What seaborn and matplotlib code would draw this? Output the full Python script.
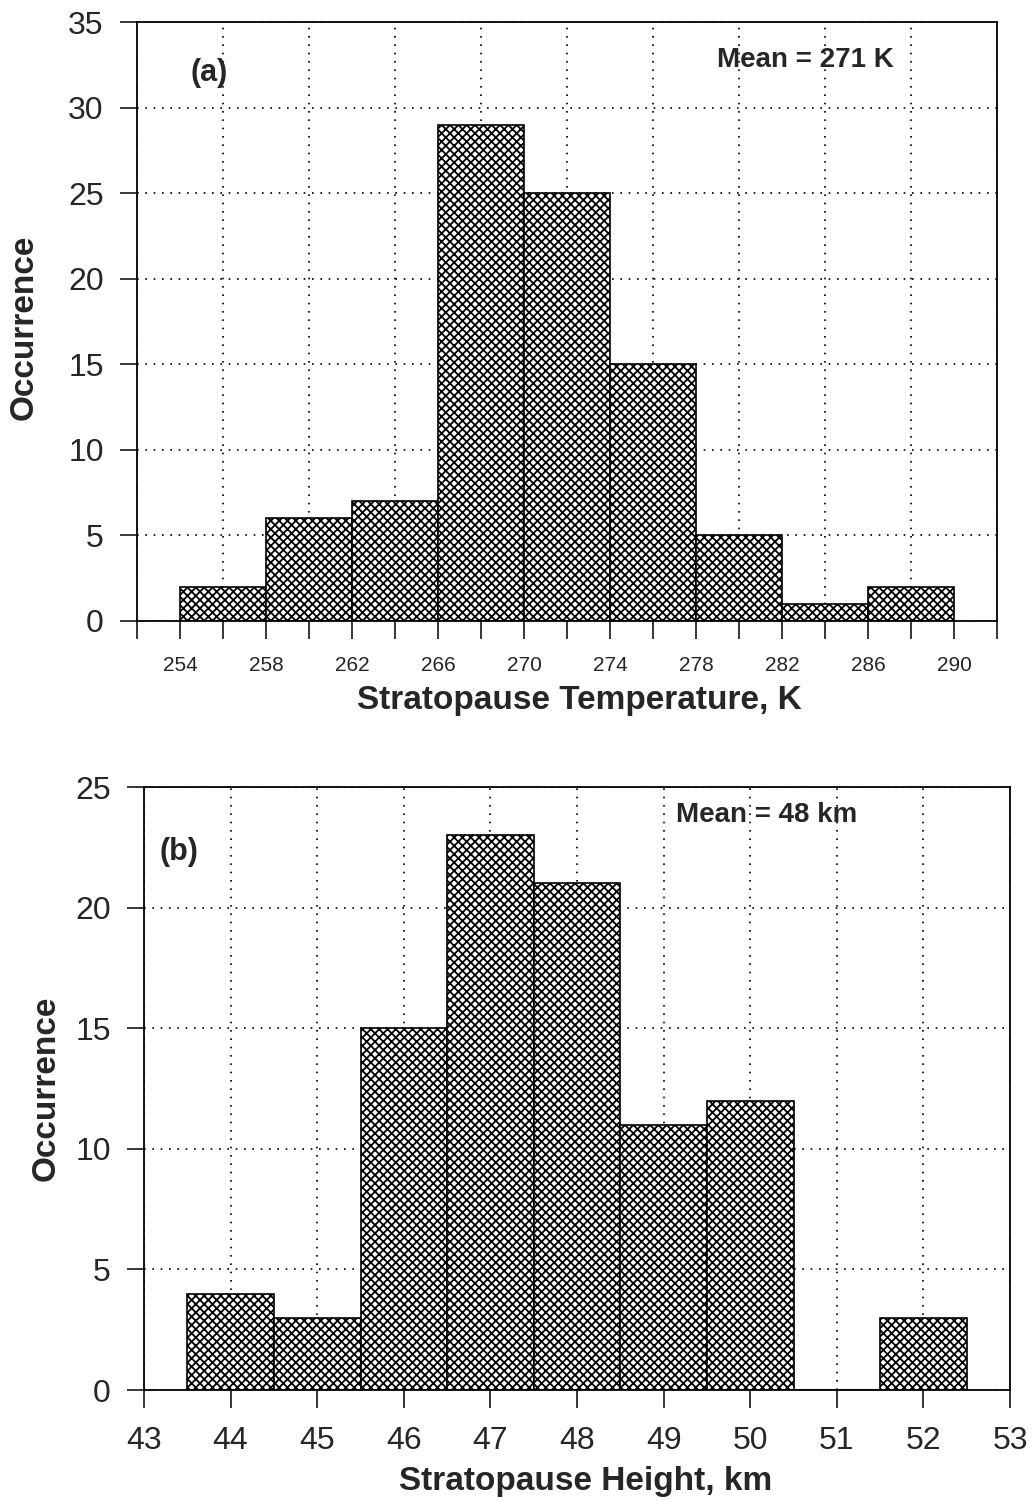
import numpy as np
import pandas as pd
import matplotlib
matplotlib.use("Agg")
import matplotlib.pyplot as plt
import seaborn as sns

# ---- data ----
temp_edges = [254, 258, 262, 266, 270, 274, 278, 282, 286, 290]
temp_counts = [2, 6, 7, 29, 25, 15, 5, 1, 2]

height_centers = [44, 45, 46, 47, 48, 49, 50, 51, 52]
height_counts = [4, 3, 15, 23, 21, 11, 12, 0, 3]

temp_tick_labels = [254, 258, 262, 266, 270, 274, 278, 282, 286, 290]
height_tick_labels = [43, 44, 45, 46, 47, 48, 49, 50, 51, 52, 53]

sns.set_style("white")
plt.rcParams["font.family"] = ["Liberation Sans", "DejaVu Sans"]
plt.rcParams["hatch.linewidth"] = 1.3
plt.rcParams["hatch.color"] = "black"

fig = plt.figure(figsize=(10.34, 15.02), dpi=100)
ax1 = fig.add_axes([137 / 1034, 1 - 621 / 1502, (997 - 137) / 1034, (621 - 22) / 1502])
ax2 = fig.add_axes([144 / 1034, 1 - 1390 / 1502, (1010 - 144) / 1034, (1390 - 787) / 1502])

grid_kw = dict(color="black", linestyle=(0, (1, 4)), linewidth=1.2)
bar_kw = dict(color="white", edgecolor="black", linewidth=1.2, hatch="xxxx", alpha=1, fill=True)

# ---- panel (a) ----
temp_df = pd.DataFrame({
    "T": [(a + b) / 2 for a, b in zip(temp_edges[:-1], temp_edges[1:])],
    "n": temp_counts,
})
sns.histplot(data=temp_df, x="T", weights="n", bins=temp_edges, ax=ax1, **bar_kw)
ax1.set_xlim(252, 292)
ax1.set_ylim(0, 35)
ax1.set_xticks(temp_tick_labels)
ax1.set_xticklabels([str(v) for v in temp_tick_labels])
ax1.set_xticks(np.arange(252, 293, 4), minor=True)
ax1.set_yticks(np.arange(0, 36, 5))
ax1.tick_params(axis="x", which="both", bottom=True, direction="out", length=13, width=1.1,
                labelsize=15, pad=12, color="black")
ax1.tick_params(axis="y", left=True, direction="out", length=12, width=1.1, labelsize=23,
                pad=12, color="black")
ax1.xaxis.grid(True, which="minor", **grid_kw)
ax1.xaxis.grid(False, which="major")
ax1.yaxis.grid(True, **grid_kw)
ax1.set_axisbelow(True)
ax1.set_xlabel("Stratopause Temperature, K", fontsize=24, fontweight="bold")
ax1.set_ylabel("Occurrence", fontsize=24, fontweight="bold")
ax1.xaxis.set_label_coords(0.514, -0.107)
ax1.yaxis.set_label_coords(-0.113, 0.49)
ax1.text(254.5, 32.0, "(a)", fontsize=22, fontweight="bold", va="center", ha="left")
ax1.text(279.0, 32.8, "Mean = 271 K", fontsize=20, fontweight="bold", va="center", ha="left")

# ---- panel (b) ----
height_df = pd.DataFrame({"H": height_centers, "n": height_counts})
h_edges = [c - 0.5 for c in height_centers] + [height_centers[-1] + 0.5]
sns.histplot(data=height_df, x="H", weights="n", bins=h_edges, ax=ax2, **bar_kw)
ax2.set_xlim(43, 53)
ax2.set_ylim(0, 25)
ax2.set_xticks(height_tick_labels)
ax2.set_yticks(np.arange(0, 26, 5))
ax2.tick_params(axis="x", bottom=True, direction="out", length=13, width=1.1, labelsize=23,
                pad=13, color="black")
ax2.tick_params(axis="y", left=True, direction="out", length=12, width=1.1, labelsize=23,
                pad=12, color="black")
ax2.grid(True, **grid_kw)
ax2.set_axisbelow(True)
ax2.set_xlabel("Stratopause Height, km", fontsize=24, fontweight="bold")
ax2.set_ylabel("Occurrence", fontsize=24, fontweight="bold")
ax2.xaxis.set_label_coords(0.51, -0.126)
ax2.yaxis.set_label_coords(-0.095, 0.5)
ax2.text(43.18, 22.3, "(b)", fontsize=22, fontweight="bold", va="center", ha="left")
ax2.text(49.14, 23.84, "Mean = 48 km", fontsize=20, fontweight="bold", va="center", ha="left")

for ax in (ax1, ax2):
    for s in ax.spines.values():
        s.set_visible(True)
        s.set_color("black")
        s.set_linewidth(1.3)
    ax.set_facecolor("white")

fig.savefig("out.png", dpi=100, facecolor="white")
